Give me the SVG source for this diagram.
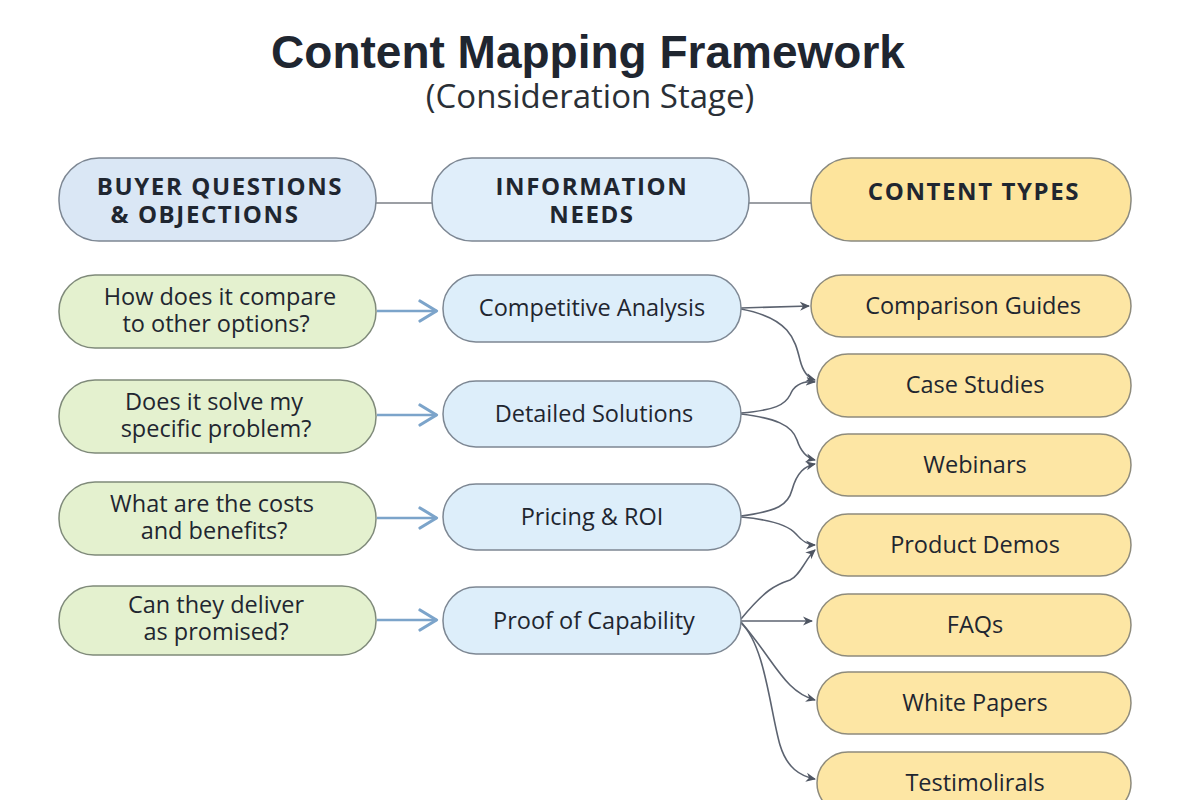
<svg xmlns="http://www.w3.org/2000/svg" width="1200" height="800" viewBox="0 0 1200 800">
<style>
.title{font-family:"Liberation Sans",Arial,sans-serif;font-weight:bold;font-size:46px;fill:#1f2630;text-anchor:middle}
.sub{font-family:"Open Sans","Liberation Sans",sans-serif;font-size:33px;fill:#2a2f36;text-anchor:middle}
.hdr{font-family:"Open Sans","Liberation Sans",sans-serif;font-weight:bold;font-size:24px;letter-spacing:1.6px;fill:#1f2630;text-anchor:middle}
.txt{font-family:"Open Sans","Liberation Sans",sans-serif;font-size:23.5px;fill:#1f2630;text-anchor:middle}
.hb{fill:#dae7f5;stroke:#7d8793;stroke-width:1.5}
.hm{fill:#e0eefa;stroke:#7d8793;stroke-width:1.5}
.hy{fill:#fde49c;stroke:#8a8a80;stroke-width:1.5}
.g{fill:#e4f1cf;stroke:#7f8a7a;stroke-width:1.5}
.b{fill:#ddeefa;stroke:#7d8793;stroke-width:1.5}
.y{fill:#fde6a4;stroke:#8e8b7c;stroke-width:1.5}
.ln{fill:none;stroke:#7b7f86;stroke-width:1.3}
.ba{fill:none;stroke:#7ca4ca;stroke-width:2.6;marker-end:url(#ab)}
.da{fill:none;stroke:#5c6370;stroke-width:1.6;marker-end:url(#ad)}
</style>
<defs>
<marker id="ab" viewBox="0 0 22 24" refX="20" refY="12" markerWidth="22" markerHeight="24" markerUnits="userSpaceOnUse" orient="auto">
<path d="M3,2 L19.5,12 L3,22" fill="none" stroke="#7ca4ca" stroke-width="3.2" stroke-linecap="round" stroke-linejoin="round"/>
</marker>
<marker id="ad" viewBox="0 0 10 10" refX="9" refY="5" markerWidth="10" markerHeight="10" markerUnits="userSpaceOnUse" orient="auto">
<path d="M0,0.5 L10,5 L0,9.5 L3,5 Z" fill="#4e5562"/>
</marker>
</defs>
<rect width="1200" height="800" fill="#ffffff"/>
<text class="title" x="588" y="68">Content Mapping Framework</text>
<text class="sub" x="590" y="108">(Consideration Stage)</text>

<g id="connectors">
<line class="ln" x1="376" y1="203" x2="432" y2="203"/>
<line class="ln" x1="749" y1="203" x2="811" y2="203"/>
<line class="ba" x1="377" y1="311" x2="437" y2="311"/>
<line class="ba" x1="377" y1="415" x2="437" y2="415"/>
<line class="ba" x1="377" y1="518" x2="437" y2="518"/>
<line class="ba" x1="377" y1="620" x2="437" y2="620"/>
<path class="da" d="M741,308 L809,306"/>
<path class="da" d="M741,309 C790,318 795,340 800,360 C803,372 808,378 815,380"/>
<path class="da" d="M741,413 C775,410 785,405 790,395 C795,383 805,381 815,382"/>
<path class="da" d="M741,414 C775,418 792,425 797,440 C801,452 807,458 815,460"/>
<path class="da" d="M741,516 C778,511 788,505 792,490 C797,472 805,466 815,464"/>
<path class="da" d="M741,517 C775,520 790,527 796,534 C803,542 808,545 815,545"/>
<path class="da" d="M741,619 C765,590 775,585 790,580 C800,576 806,558 815,550"/>
<path class="da" d="M741,621 L812,621"/>
<path class="da" d="M741,622 C765,650 775,670 790,685 C800,695 808,698 815,700"/>
<path class="da" d="M741,623 C765,645 770,710 780,745 C787,768 800,776 815,779"/>
</g>

<g id="hdr-buyer"><rect class="hb" x="59" y="158" width="317" height="83" rx="40"/>
<text class="hdr" x="220" y="195">BUYER QUESTIONS</text><text class="hdr" x="205" y="223">&amp; OBJECTIONS</text></g>
<g id="hdr-info"><rect class="hm" x="432" y="158" width="317" height="83" rx="40"/>
<text class="hdr" x="592" y="195">INFORMATION</text><text class="hdr" x="592" y="223">NEEDS</text></g>
<g id="hdr-content"><rect class="hy" x="811" y="158" width="320" height="83" rx="40"/>
<text class="hdr" x="974" y="200">CONTENT TYPES</text></g>

<g id="q1"><rect class="g" x="59" y="275" width="317" height="73" rx="36"/>
<text class="txt" x="220" y="305">How does it compare</text><text class="txt" x="216" y="332">to other options?</text></g>
<g id="q2"><rect class="g" x="59" y="380" width="317" height="73" rx="36"/>
<text class="txt" x="214" y="410">Does it solve my</text><text class="txt" x="216" y="437">specific problem?</text></g>
<g id="q3"><rect class="g" x="59" y="482" width="317" height="73" rx="36"/>
<text class="txt" x="212" y="512">What are the costs</text><text class="txt" x="214" y="539">and benefits?</text></g>
<g id="q4"><rect class="g" x="59" y="586" width="317" height="69" rx="34"/>
<text class="txt" x="216" y="613">Can they deliver</text><text class="txt" x="216" y="640">as promised?</text></g>

<g id="n1"><rect class="b" x="443" y="275" width="298" height="67" rx="33"/>
<text class="txt" x="592" y="316">Competitive Analysis</text></g>
<g id="n2"><rect class="b" x="443" y="381" width="298" height="66" rx="33"/>
<text class="txt" x="594" y="422">Detailed Solutions</text></g>
<g id="n3"><rect class="b" x="443" y="484" width="298" height="66" rx="33"/>
<text class="txt" x="592" y="525">Pricing &amp; ROI</text></g>
<g id="n4"><rect class="b" x="443" y="587" width="298" height="67" rx="33"/>
<text class="txt" x="594" y="629">Proof of Capability</text></g>

<g id="c1"><rect class="y" x="811" y="275" width="320" height="62" rx="31"/>
<text class="txt" x="973" y="314">Comparison Guides</text></g>
<g id="c2"><rect class="y" x="817" y="354" width="314" height="63" rx="31"/>
<text class="txt" x="975" y="393">Case Studies</text></g>
<g id="c3"><rect class="y" x="817" y="434" width="314" height="62" rx="31"/>
<text class="txt" x="975" y="473">Webinars</text></g>
<g id="c4"><rect class="y" x="817" y="514" width="314" height="62" rx="31"/>
<text class="txt" x="975" y="553">Product Demos</text></g>
<g id="c5"><rect class="y" x="817" y="594" width="314" height="62" rx="31"/>
<text class="txt" x="975" y="633">FAQs</text></g>
<g id="c6"><rect class="y" x="817" y="672" width="314" height="62" rx="31"/>
<text class="txt" x="975" y="711">White Papers</text></g>
<g id="c7"><rect class="y" x="817" y="752" width="314" height="62" rx="31"/>
<text class="txt" x="975" y="791">Testimolirals</text></g>
</svg>
